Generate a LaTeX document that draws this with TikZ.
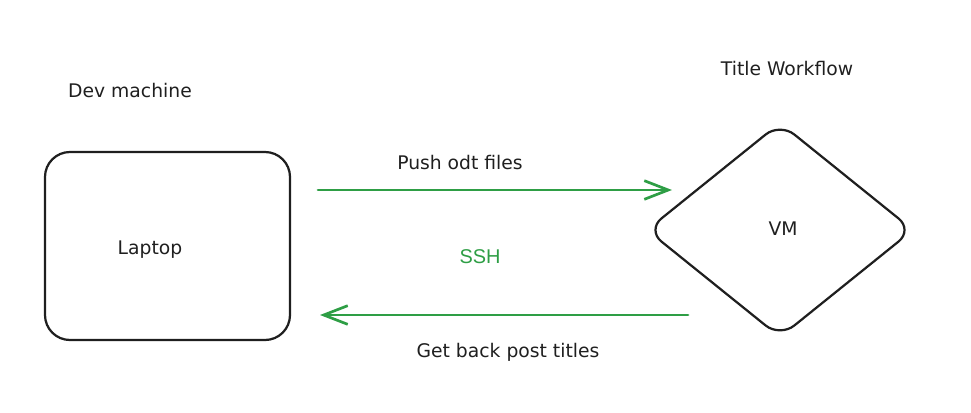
\documentclass[tikz,border=0pt]{standalone}
\usepackage{fontspec}
\setmainfont{DejaVu Sans}
\newfontfamily\sshfont{Liberation Sans}
\usetikzlibrary{arrows.meta,shapes.geometric}
\definecolor{ssgreen}{rgb}{0.18,0.62,0.27}
\definecolor{inkdark}{rgb}{0.12,0.12,0.12}

\begin{document}
\begin{tikzpicture}[line cap=round,line join=round,>={Straight Barb[length=0.72cm,width=0.56cm]},x=0.03cm,y=-0.03cm]
\tikzset{
  box/.style={draw=inkdark,line width=1.9pt,rounded corners=0.75cm,minimum width=7.35cm,minimum height=5.64cm},
  rhomb/.style={draw=inkdark,line width=1.9pt,diamond,aspect=1.25,rounded corners=0.55cm,minimum width=8.0cm,minimum height=6.45cm,inner sep=0pt},
  lbl/.style={text=inkdark,font=\fontsize{16}{19}\selectfont},
  flow/.style={->,draw=ssgreen,line width=2.3pt}
}
\useasboundingbox (0,0) rectangle (971,412);
\node[box] (laptop) at (167.5,246) {};
\node[rhomb] (vm) at (780,230) {};
\node[lbl] (lapname) at (150,250) {Laptop};
\node[lbl] (vmname) at (783,229) {VM};
\node[lbl] (dev) at (130,91) {Dev machine};
\node[lbl] (title) at (787,69) {Title Workflow};
\coordinate (pushA) at (318,190);
\coordinate (pushB) at (672,190);
\coordinate (backA) at (688,315);
\coordinate (backB) at (320,315);
\draw[flow] (pushA) -- (pushB);
\draw[flow] (backA) -- (backB);
\node[lbl] (push) at (460,163) {Push odt files};
\node[text=ssgreen,font=\sshfont\fontsize{17}{20}\selectfont] (ssh) at (480,257) {SSH};
\node[lbl] (back) at (508,352) {Get back post titles};
\end{tikzpicture}
\end{document}
